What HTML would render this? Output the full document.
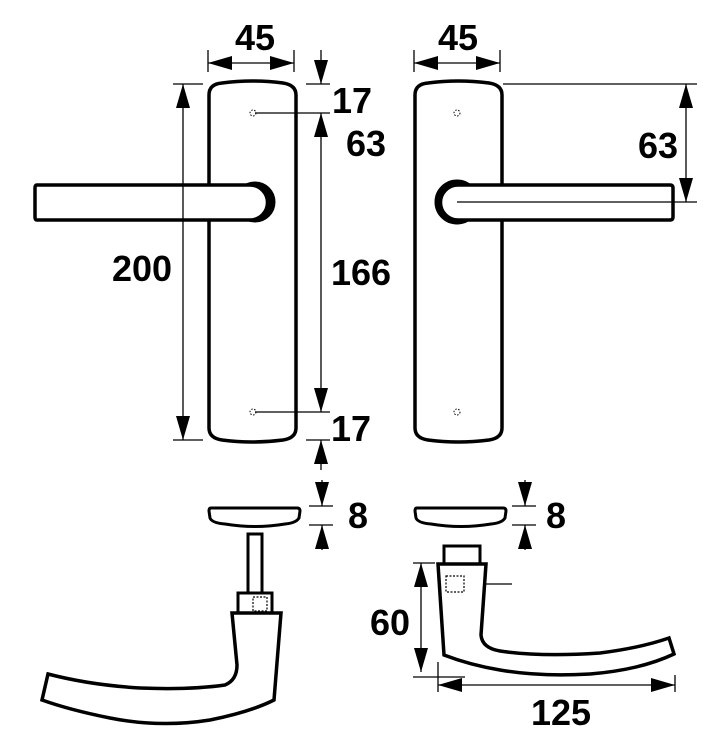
<!DOCTYPE html>
<html><head><style>
html,body{margin:0;padding:0;background:#fff;}
svg{display:block;}
text{font-family:"Liberation Sans",sans-serif;font-weight:bold;font-size:36px;fill:#000;}
</style></head><body>
<svg width="728" height="750" viewBox="0 0 728 750" xmlns="http://www.w3.org/2000/svg">
<defs>
<marker id="a" markerWidth="8" markerHeight="8" refX="8" refY="4" orient="auto" markerUnits="userSpaceOnUse" viewBox="0 0 8 8"><path d="M0,0 L8,4 L0,8 Z"/></marker>
<marker id="ah" viewBox="0 0 24 14" refX="24" refY="7" markerWidth="24" markerHeight="14" orient="auto-start-reverse" markerUnits="userSpaceOnUse"><path d="M0,0 L24,7 L0,14 Z" fill="#000"/></marker>
</defs>
<g fill="none" stroke="#000">
<path d="M209,95 Q209,84 222,83 Q252,79 283,83 Q296,85 296,95 L296,428 Q296,438 283,440 Q252,444 222,440 Q209,438 209,428 Z" stroke-width="3.5" fill="#fff"/>
<circle cx="255" cy="202" r="20" fill="#000"/>
<path d="M37,185 L250,185 A17,17 0 0 1 250,220 L37,220 Q35,220 35,217 L35,188 Q35,185 37,185 Z" stroke-width="3.5" fill="#fff"/>
<circle cx="253" cy="113" r="3" stroke-width="1" stroke-dasharray="1.5,1.5"/>
<circle cx="253" cy="412" r="3" stroke-width="1" stroke-dasharray="1.5,1.5"/>
<path d="M415,95 Q415,84 428,83 Q458,79 489,83 Q502,85 502,95 L502,428 Q502,438 489,440 Q458,444 428,440 Q415,438 415,428 Z" stroke-width="3.5" fill="#fff"/>
<circle cx="457" cy="202" r="22" fill="#000"/>
<path d="M458,185 L670,185 Q673,185 673,188 L673,217 Q673,220 670,220 L458,220 A17.5,17.5 0 0 1 458,185 Z" stroke-width="3.5" fill="#fff"/>
<line x1="457" y1="202" x2="697" y2="202" stroke-width="1.3"/>
<circle cx="457" cy="113" r="3" stroke-width="1" stroke-dasharray="1.5,1.5"/>
<circle cx="457" cy="412" r="3" stroke-width="1" stroke-dasharray="1.5,1.5"/>

<g stroke-width="1.3">
<line x1="208" y1="50" x2="208" y2="72"/><line x1="294" y1="50" x2="294" y2="72"/>
<line x1="208" y1="63" x2="294" y2="63" marker-start="url(#ah)" marker-end="url(#ah)"/>
<line x1="414" y1="50" x2="414" y2="72"/><line x1="500" y1="50" x2="500" y2="72"/>
<line x1="414" y1="63" x2="500" y2="63" marker-start="url(#ah)" marker-end="url(#ah)"/>
<line x1="173" y1="84" x2="203" y2="84"/><line x1="173" y1="440" x2="203" y2="440"/>
<line x1="183" y1="84" x2="183" y2="440" marker-start="url(#ah)" marker-end="url(#ah)"/>
<line x1="306" y1="84" x2="330" y2="84"/>
<line x1="255" y1="113" x2="330" y2="113"/>
<line x1="255" y1="412" x2="330" y2="412"/>
<line x1="306" y1="440" x2="330" y2="440"/>
<line x1="321" y1="50" x2="321" y2="84" marker-end="url(#ah)"/>
<line x1="321" y1="113" x2="321" y2="412" marker-start="url(#ah)" marker-end="url(#ah)"/>
<line x1="321" y1="470" x2="321" y2="440" marker-end="url(#ah)"/>
<line x1="503" y1="84" x2="697" y2="84"/>
<line x1="686" y1="84" x2="686" y2="202" marker-start="url(#ah)" marker-end="url(#ah)"/>
<line x1="309" y1="506" x2="333" y2="506"/><line x1="309" y1="525" x2="333" y2="525"/>
<line x1="322" y1="480" x2="322" y2="506" marker-end="url(#ah)"/>
<line x1="322" y1="550" x2="322" y2="525" marker-end="url(#ah)"/>
<line x1="512" y1="506" x2="536" y2="506"/><line x1="512" y1="525" x2="536" y2="525"/>
<line x1="525" y1="480" x2="525" y2="506" marker-end="url(#ah)"/>
<line x1="525" y1="550" x2="525" y2="525" marker-end="url(#ah)"/>
<line x1="413" y1="563" x2="435" y2="563"/><line x1="413" y1="677" x2="465" y2="677"/>
<line x1="421" y1="563" x2="421" y2="672" marker-start="url(#ah)" marker-end="url(#ah)"/>
<line x1="438" y1="662" x2="438" y2="692"/><line x1="675" y1="675" x2="675" y2="692"/>
<line x1="438" y1="685" x2="675" y2="685" marker-start="url(#ah)" marker-end="url(#ah)"/>
<line x1="512" y1="584" x2="465" y2="584" marker-end="url(#a)"/>
</g>

<path d="M211,508 L297,508 Q300,508 300,511 L299,518 Q296,523 285,524 Q255,529 225,524 Q212,523 210,518 L209,511 Q209,508 211,508 Z" stroke-width="3" fill="#fff"/>
<path d="M417,508 L503,508 Q506,508 506,511 L505,518 Q502,523 491,524 Q461,529 431,524 Q418,523 416,518 L415,511 Q415,508 417,508 Z" stroke-width="3" fill="#fff"/>

<rect x="248" y="534" width="14" height="59" stroke-width="3" fill="#fff"/>
<rect x="238" y="593" width="34" height="20" stroke-width="3" fill="#fff"/>
<rect x="253" y="597" width="14" height="14" stroke-width="1.2" stroke-dasharray="2,1.5"/>
<path d="M232,613 L281,613 L274,700 Q250,712 210,720 Q160,728 110,718 Q70,710 42,700 L48,674 Q90,685 140,688 Q190,690 225,685 Q237,680 237,665 Z" stroke-width="3.5" fill="#fff"/>

<rect x="444" y="546" width="36" height="18" stroke-width="3" fill="#fff"/>
<path d="M438,564 L486,564 L481,635 Q482,648 500,651 Q540,657 600,653 Q640,648 669,638 L674,654 Q640,670 590,674 Q540,677 500,670 Q470,665 444,655 Z" stroke-width="3.5" fill="#fff"/>
<rect x="446" y="576" width="18" height="16" stroke-width="1.2" stroke-dasharray="2,1.5"/>
</g>

<text x="255" y="50" text-anchor="middle">45</text>
<text x="458" y="50" text-anchor="middle">45</text>
<text x="352" y="113" text-anchor="middle">17</text>
<text x="366" y="156" text-anchor="middle">63</text>
<text x="142" y="281" text-anchor="middle">200</text>
<text x="361" y="285" text-anchor="middle">166</text>
<text x="351" y="441" text-anchor="middle">17</text>
<text x="658" y="158" text-anchor="middle">63</text>
<text x="358" y="528" text-anchor="middle">8</text>
<text x="556" y="528" text-anchor="middle">8</text>
<text x="390" y="635" text-anchor="middle">60</text>
<text x="561" y="725" text-anchor="middle">125</text>
</svg>
</body></html>
